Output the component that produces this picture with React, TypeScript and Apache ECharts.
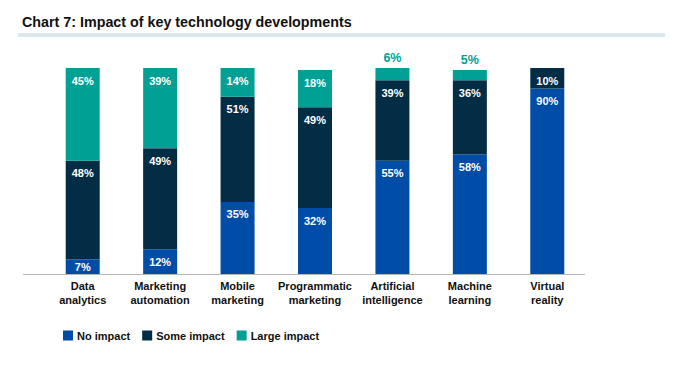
import React, { useEffect, useRef } from "react";
import * as echarts from "echarts";

const categories = [
  "Data\nanalytics",
  "Marketing\nautomation",
  "Mobile\nmarketing",
  "Programmatic\nmarketing",
  "Artificial\nintelligence",
  "Machine\nlearning",
  "Virtual\nreality",
];
const noImpact = [7, 12, 35, 32, 55, 58, 90];
const someImpact = [48, 49, 51, 49, 39, 36, 10];
const largeImpact = [45, 39, 14, 18, 6, 5, 0];
const seriesNames = ["No impact", "Some impact", "Large impact"];

const BLUE = "#004da8";
const NAVY = "#032d45";
const TEAL = "#00a194";
const FONT = "Liberation Sans, Arial, sans-serif";

export default function App() {
  const ref = useRef<HTMLDivElement>(null);
  useEffect(() => {
    if (!ref.current) return;
    const chart = echarts.init(ref.current, null, { renderer: "svg" });
    const insideLabel = {
      show: true,
      position: "insideTop",
      distance: 7,
      color: "#ffffff",
      fontFamily: FONT,
      fontWeight: "bold",
      fontSize: 11,
      formatter: (p: any) => (p.value > 0 ? p.value + "%" : ""),
    };
    const mk = (name: string, values: number[], color: string, smallTop: boolean) => ({
      name,
      type: "bar",
      stack: "total",
      barWidth: 34,
      itemStyle: { color },
      label: insideLabel,
      data: values.map((v) => {
        if (v > 0 && v < 10 && smallTop) {
          return {
            value: v,
            label: {
              show: true,
              position: "top",
              distance: 4,
              color: TEAL,
              fontFamily: FONT,
              fontWeight: "bold",
              fontSize: 12.5,
              formatter: "{c}%",
            },
          };
        }
        if (v > 0 && v < 10) {
          return { value: v, label: { ...insideLabel, position: "inside" } };
        }
        return v;
      }),
    });
    chart.setOption({
      animation: false,
      textStyle: { fontFamily: FONT },
      title: {
        text: "Chart 7: Impact of key technology developments",
        left: 17,
        top: 10,
        textStyle: { fontFamily: FONT, fontSize: 14.3, fontWeight: "bold", color: "#111111" },
      },
      graphic: [
        {
          type: "rect",
          shape: { x: 18, y: 33, width: 647, height: 4 },
          style: { fill: "#dce7ef" },
        },
        {
          type: "line",
          shape: { x1: 23, y1: 274.5, x2: 585, y2: 274.5 },
          style: { stroke: "#b5b5b5", lineWidth: 1 },
        },
      ],
      legend: {
        data: seriesNames,
        left: 58,
        top: 325,
        itemWidth: 10,
        itemHeight: 10,
        itemGap: 12,
        icon: "rect",
        textStyle: { fontFamily: FONT, fontSize: 11, fontWeight: "bold", color: "#111111", padding: [0, 0, 0, -1] },
      },
      grid: { left: 44, right: 99, top: 68, bottom: 92, containLabel: false },
      xAxis: {
        type: "category",
        data: categories,
        axisLine: { show: false },
        axisTick: { show: false },
        axisLabel: {
          color: "#111111",
          fontFamily: FONT,
          fontWeight: "bold",
          fontSize: 11,
          lineHeight: 14,
          margin: 5,
          interval: 0,
        },
      },
      yAxis: { type: "value", min: 0, max: 100, show: false, splitLine: { show: false } },
      series: [
        mk(seriesNames[0], noImpact, BLUE, false),
        mk(seriesNames[1], someImpact, NAVY, false),
        mk(seriesNames[2], largeImpact, TEAL, true),
      ],
    });
    return () => chart.dispose();
  }, []);
  return (
    <div
      ref={ref}
      style={{ position: "absolute", left: 0, top: 0, width: 685, height: 366 }}
    />
  );
}
